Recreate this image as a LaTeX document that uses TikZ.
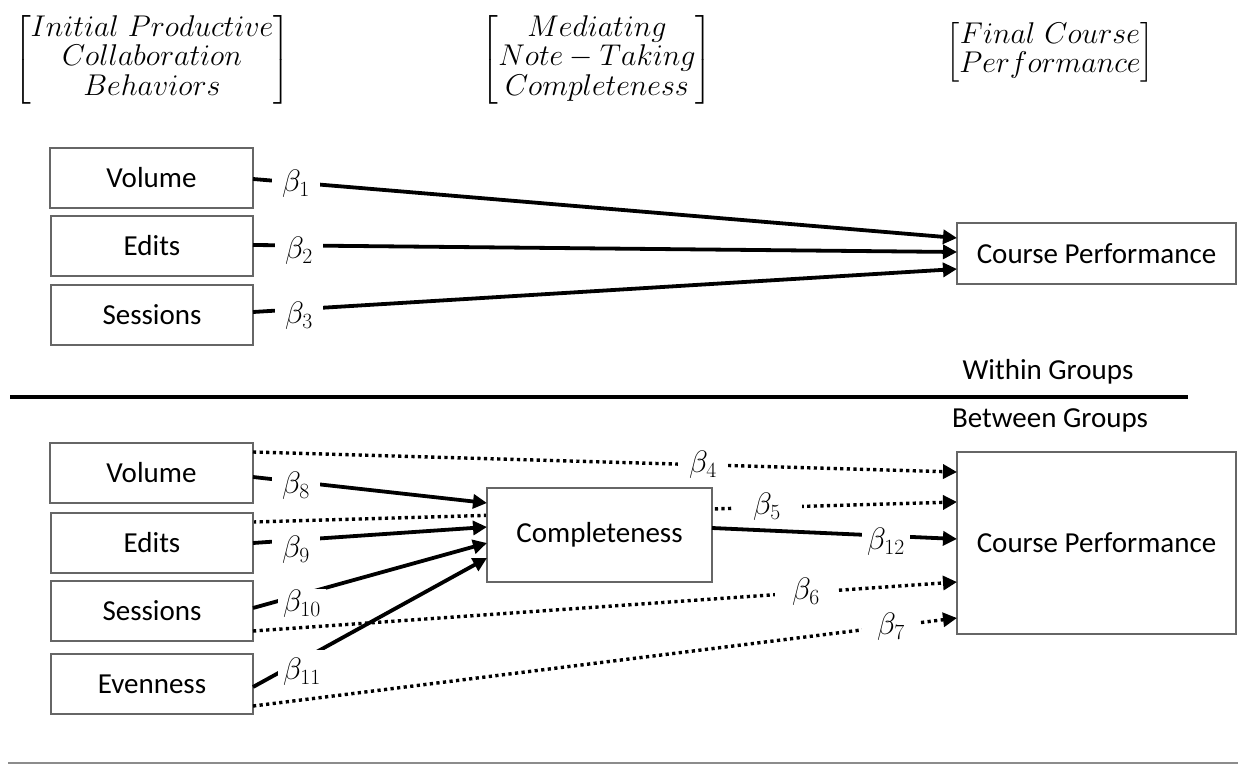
\RequirePackage{fix-cm}
\documentclass[tikz,border=0pt]{standalone}
\usepackage{amsmath}
\usepackage{fontspec}
\newfontfamily\calibri{Carlito}
\usetikzlibrary{arrows.meta,backgrounds}
\tikzset{
  box/.style={draw=black!60, line width=1.3pt, fill=white, inner sep=0pt, outer sep=0pt,
    font=\calibri\fontsize{29}{34}\selectfont},
  tipA/.style={-{Triangle[length=14pt,width=14pt]}},
  sol/.style={line width=3.8pt, tipA},
  dotl/.style={line width=3.4pt, dash pattern=on 3.2pt off 3.4pt, tipA},
  lab/.style={fill=white, inner sep=0pt, outer sep=0pt, minimum height=30pt,
    font=\fontsize{31}{34}\selectfont},
  hdr/.style={inner sep=0pt, font=\fontsize{30}{29.5}\selectfont},
  grp/.style={inner sep=0pt, font=\calibri\fontsize{29}{34}\selectfont}
}
\begin{document}
\begin{tikzpicture}[x=1pt,y=-1pt]
\useasboundingbox (0,0) rectangle (1238,767);
\begin{scope}[on background layer]
\fill[white] (0,0) rectangle (1238,767);
\end{scope}

% headers
\node[hdr] (h1) at (152,60) {$\left[\begin{matrix}Initial\ Productive\\ Collaboration\\ Behaviors\end{matrix}\right]$};
\node[hdr] (h2) at (597,60) {$\left[\begin{matrix}Mediating\\ Note-Taking\\ Completeness\end{matrix}\right]$};
\node[hdr] (h3) at (1050,52) {$\left[\begin{matrix}Final\ Course\\ Performance\end{matrix}\right]$};

% top section boxes
\node[box, minimum width=203pt, minimum height=60pt] (v1) at (151.5,178) {Volume};
\node[box, minimum width=202pt, minimum height=60pt] (e1) at (152,246) {Edits};
\node[box, minimum width=202pt, minimum height=60pt] (s1) at (152,315) {Sessions};
\node[box, minimum width=279pt, minimum height=61pt] (cp1) at (1096.5,253.5) {Course Performance};

% group labels and divider
\node[grp] (wg) at (1048,372) {Within Groups};
\node[grp] (bg) at (1050,420) {Between Groups};
\draw[line width=4.2pt] (10,397) -- (1188,397);

% bottom section boxes
\node[box, minimum width=203pt, minimum height=60pt] (v2) at (151.5,473) {Volume};
\node[box, minimum width=202pt, minimum height=60pt] (e2) at (152,543) {Edits};
\node[box, minimum width=202pt, minimum height=60pt] (s2) at (152,611) {Sessions};
\node[box, minimum width=202pt, minimum height=60pt] (ev2) at (152,684) {Evenness};
\node[box, minimum width=225pt, minimum height=94pt] (comp) at (599.5,535) {Completeness};
\node[box, minimum width=279pt, minimum height=182pt] (cp2) at (1096.5,543) {Course Performance};

% top connectors
\draw[sol] ([yshift=-1pt]v1.east) -- ([yshift=15.5pt]cp1.west);
\draw[sol] ([yshift=1pt]e1.east) -- ([yshift=1.5pt]cp1.west);
\draw[sol] ([yshift=3pt]s1.east) -- ([yshift=-15.5pt]cp1.west);

% bottom direct (dotted) connectors
\draw[dotl] ([yshift=21pt]v2.east) -- ([yshift=71pt]cp2.west);
\begin{scope}[on background layer]
\draw[dotl] ([yshift=21pt]e2.east) -- ([yshift=41pt]cp2.west);
\end{scope}
\draw[dotl] ([yshift=-20pt]s2.east) -- ([yshift=-39pt]cp2.west);
\draw[dotl] ([yshift=-22pt]ev2.east) -- ([yshift=-75pt]cp2.west);

% mediated connectors
\draw[sol] ([yshift=-4pt]v2.east) -- ([yshift=32pt]comp.west);
\draw[sol] (e2.east) -- ([yshift=8pt]comp.west);
\draw[sol] ([yshift=3pt]s2.east) -- ([yshift=-8pt]comp.west);
\draw[sol] ([yshift=-3pt]ev2.east) -- ([yshift=-23pt]comp.west);
\draw[sol] ([yshift=7pt]comp.east) -- ([yshift=4pt]cp2.west);

% labels
\node[lab, minimum width=48pt] (b1) at (296,184) {$\beta_{1}$};
\node[lab, minimum width=48pt] (b2) at (299,251) {$\beta_{2}$};
\node[lab, minimum width=48pt] (b3) at (299,316) {$\beta_{3}$};
\node[lab, minimum width=50pt] (b4) at (703,465) {$\beta_{4}$};
\node[lab, minimum width=69pt] (b5) at (767,507) {$\beta_{5}$};
\node[lab, minimum width=62pt] (b6) at (806,592) {$\beta_{6}$};
\node[lab, minimum width=58pt] (b7) at (891,627) {$\beta_{7}$};
\node[lab, minimum width=48pt] (b8) at (296,486) {$\beta_{8}$};
\node[lab, minimum width=48pt] (b9) at (296,550) {$\beta_{9}$};
\node[lab, minimum width=48pt] (b10) at (302,604) {$\beta_{10}$};
\node[lab, minimum width=48pt, minimum height=44pt] (b11) at (302,672) {$\beta_{11}$};
\node[lab, minimum width=48pt] (b12) at (886,542) {$\beta_{12}$};

% bottom rule
\draw[line width=1.3pt, black!45] (8,763) -- (1238,763);
\end{tikzpicture}
\end{document}
